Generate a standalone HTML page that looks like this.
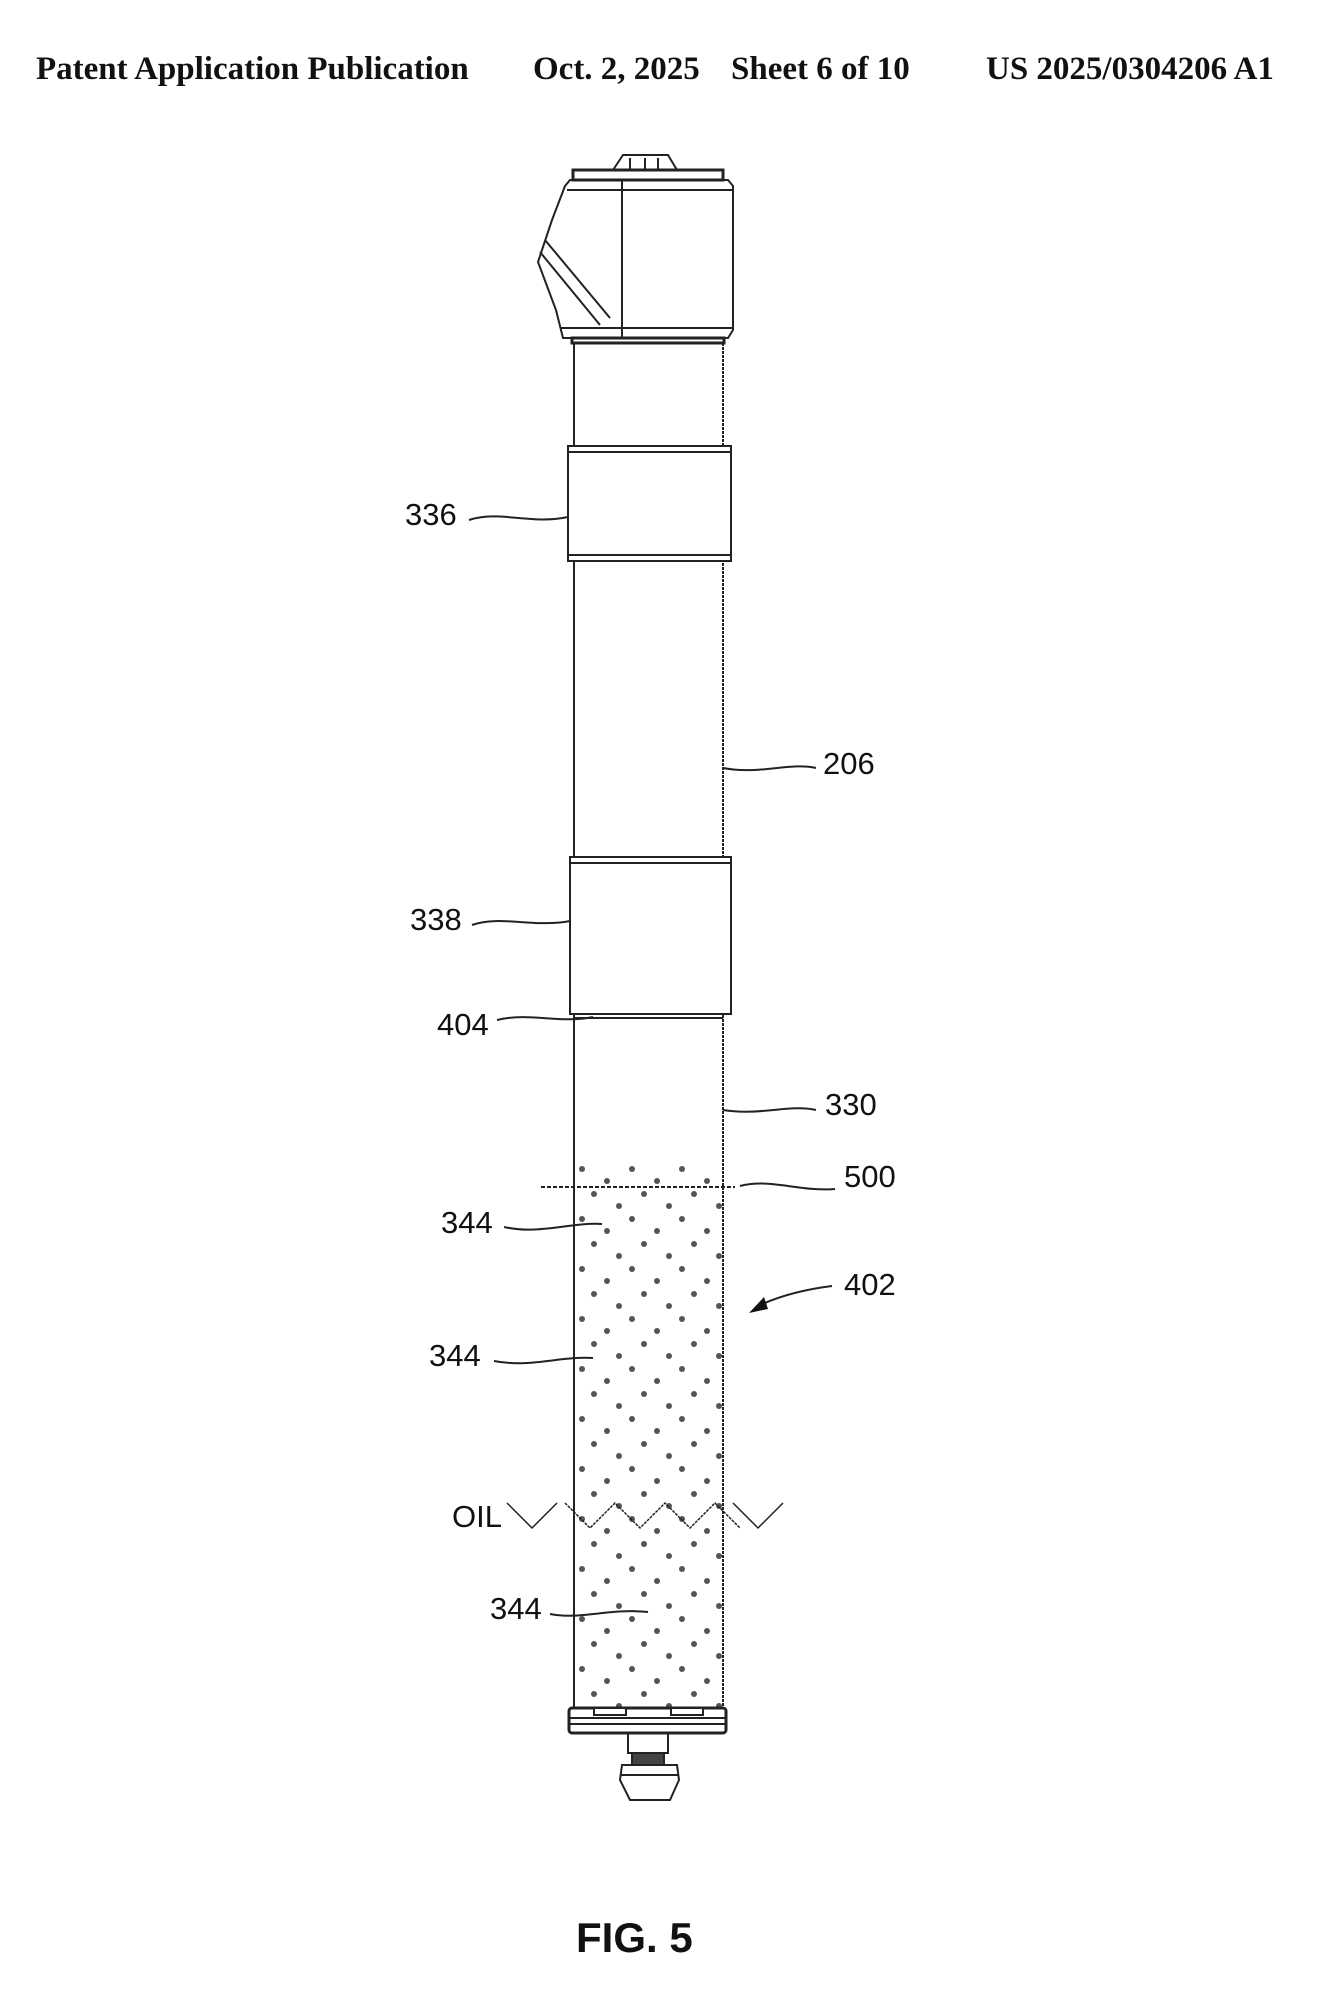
<!DOCTYPE html>
<html><head><meta charset="utf-8"><style>
html,body{margin:0;padding:0;background:#fff}
body{width:1333px;height:2000px;position:relative;overflow:hidden}
.h{position:absolute;top:51px;font-family:"Liberation Serif",serif;font-weight:bold;font-size:33px;color:#111;white-space:nowrap}
</style></head><body>
<div class="h" style="left:36px">Patent Application Publication</div>
<div class="h" style="left:533px">Oct. 2, 2025</div>
<div class="h" style="left:731px">Sheet 6 of 10</div>
<div class="h" style="left:986px">US 2025/0304206 A1</div>
<svg width="1333" height="2000" style="position:absolute;left:0;top:0" xmlns="http://www.w3.org/2000/svg">
<defs>
<pattern id="d" width="50" height="50" patternUnits="userSpaceOnUse" x="576" y="1161">
<g fill="#555"><circle cx="6" cy="8" r="3"/><circle cx="31" cy="20" r="3"/><circle cx="18" cy="33" r="3"/><circle cx="43" cy="45" r="3"/></g>
</pattern>
</defs>
<g fill="none" stroke="#222" stroke-width="2">
<path d="M613,170 L623,155 L668,155 L677,170 Z"/>
<line x1="630" y1="158" x2="630" y2="170"/><line x1="645" y1="158" x2="645" y2="170"/><line x1="658" y1="158" x2="658" y2="170"/>
<rect x="573" y="170" width="150" height="10" stroke-width="3"/>
<path d="M570,180 L728,180 L733,186 L733,330 L728,338 L563,338 L556,310 L538,262 L552,220 L565,186 Z"/>
<line x1="567" y1="190" x2="733" y2="190"/>
<line x1="622" y1="180" x2="622" y2="338"/>
<line x1="560" y1="328" x2="733" y2="328"/>
<line x1="545" y1="240" x2="610" y2="318"/><line x1="540" y1="252" x2="600" y2="325"/>
<rect x="572" y="338" width="152" height="5" stroke-width="3"/>
<line x1="574" y1="343" x2="574" y2="1708"/>
<line x1="723" y1="343" x2="723" y2="1708" stroke-dasharray="3,1"/>
<rect x="568" y="446" width="163" height="115" fill="#fff"/>
<line x1="568" y1="452" x2="731" y2="452"/><line x1="568" y1="555" x2="731" y2="555"/>
<rect x="570" y="857" width="161" height="157" fill="#fff"/>
<line x1="570" y1="863" x2="731" y2="863"/>
<line x1="574" y1="1018" x2="723" y2="1018"/>
</g>
<rect x="576" y="1161" width="146" height="547" fill="url(#d)"/>
<g fill="none" stroke="#222" stroke-width="2">
<line x1="541" y1="1187" x2="735" y2="1187" stroke-dasharray="4,2"/>
<rect x="569" y="1708" width="157" height="25" rx="3" stroke-width="3"/>
<line x1="569" y1="1718" x2="726" y2="1718"/><line x1="569" y1="1724" x2="726" y2="1724"/>
<rect x="594" y="1708" width="32" height="7" fill="#fff"/><rect x="671" y="1708" width="32" height="7" fill="#fff"/>
<rect x="628" y="1733" width="40" height="20"/>
<rect x="632" y="1753" width="32" height="12" fill="#444"/>
<path d="M622,1765 L677,1765 L679,1780 L670,1800 L630,1800 L620,1780 Z"/>
<line x1="620" y1="1775" x2="679" y2="1775"/>
<path d="M469,520 C500,510 530,525 568,517"/>
<path d="M723,768 C760,775 790,762 816,768"/>
<path d="M472,925 C500,915 535,928 570,921"/>
<path d="M497,1020 C530,1012 560,1024 593,1017"/>
<path d="M723,1110 C760,1116 790,1104 816,1110"/>
<path d="M740,1186 C770,1178 800,1192 835,1189"/>
<path d="M504,1227 C540,1235 570,1222 602,1224"/>
<path d="M494,1361 C530,1368 560,1356 593,1358"/>
<path d="M550,1614 C580,1620 610,1608 648,1612"/>
<path d="M832,1286 C800,1290 775,1298 758,1306"/>
<polyline points="507,1503 532,1528 557,1503" stroke-width="1.5"/>
<polyline points="565,1503 590,1528 615,1503 640,1528 665,1503 690,1528 715,1503 740,1528" stroke-width="1.5" stroke-dasharray="3,1"/>
<polyline points="733,1503 758,1528 783,1503" stroke-width="1.5"/>
</g>
<path d="M749,1313 L764,1297 L768,1309 Z" fill="#111"/>
<g font-family="'Liberation Sans',sans-serif" font-size="31" fill="#111">
<text x="405" y="525">336</text>
<text x="823" y="774">206</text>
<text x="410" y="930">338</text>
<text x="437" y="1035">404</text>
<text x="825" y="1115">330</text>
<text x="844" y="1187">500</text>
<text x="441" y="1233">344</text>
<text x="844" y="1295">402</text>
<text x="429" y="1366">344</text>
<text x="452" y="1527">OIL</text>
<text x="490" y="1619">344</text>
</g>
<text x="576" y="1952" font-family="'Liberation Sans',sans-serif" font-weight="bold" font-size="42" fill="#111">FIG. 5</text>
</svg>
</body></html>
